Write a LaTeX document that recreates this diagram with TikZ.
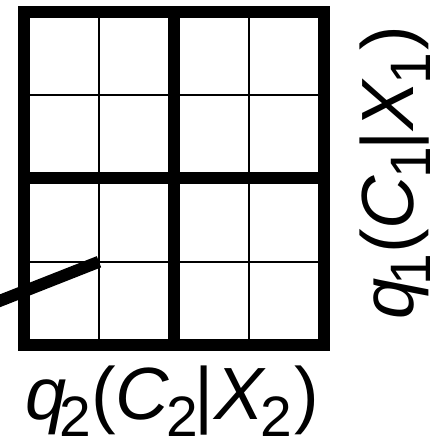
\documentclass[tikz,border=0pt]{standalone}
\usepackage{fontspec}
\setmainfont{Liberation Sans}
\newcommand{\subfig}[1]{\raisebox{-17pt}{\fontsize{57}{57}\selectfont #1}}
\newcommand{\qlabel}[1]{\fontsize{74}{74}\selectfont{\itshape q}\kern-7pt\subfig{#1}\kern1pt(\kern-1pt{\itshape C}\kern-2pt\subfig{#1}\kern-4pt|\kern1pt{\itshape X}\kern-4pt\subfig{#1}\kern3pt)}
\tikzset{
  thickline/.style={line width=12pt, line cap=rect},
  thinline/.style={line width=2pt},
  border/.style={line width=12pt, miter limit=10},
  lbl/.style={inner sep=0pt, outer sep=0pt, anchor=base west}
}
\begin{document}
\begin{tikzpicture}[x=1pt,y=1pt]
\useasboundingbox (0,0) rectangle (445,441);
% thin lines
\draw[thinline] (99,96) -- (99,429);
\draw[thinline] (249,96) -- (249,429);
\draw[thinline] (24,345.75) -- (324,345.75);
\draw[thinline] (24,179.25) -- (324,179.25);
% thick middle lines
\draw[line width=12pt] (174,96) -- (174,429);
\draw[line width=12pt] (24,262.5) -- (324,262.5);
% outer border
\draw[border] (24,96) rectangle (324,429);
% diagonal
\coordinate (dend) at (99,179.25);
\coordinate (dstart) at (-12,135.5);
\draw[line width=12pt] (dstart) -- (dend);
% labels
\node[lbl] (lab2) at (25,21) {\qlabel{2}};
\node[lbl, rotate=90] (lab1) at (413,121) {\qlabel{1}};
\end{tikzpicture}
\end{document}
